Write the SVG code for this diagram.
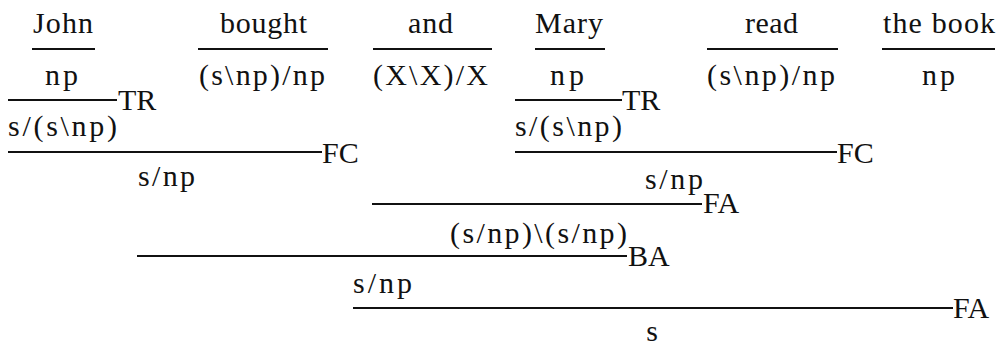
<svg xmlns="http://www.w3.org/2000/svg" width="1000" height="346" viewBox="0 0 1000 346">
<style>
text{font-size:30px;fill:#111}
.c{text-anchor:middle}
line{stroke:#111;stroke-width:2}
</style>
<rect width="1000" height="346" fill="#fff"/>
<g font-family="Liberation Serif, DejaVu Serif, serif">
<g id="words">
<g id="w-john"><text x="33" y="33" textLength="60" lengthAdjust="spacing">John</text><text x="45" y="85" textLength="33" lengthAdjust="spacing">np</text></g>
<g id="w-bought"><text x="220" y="33" textLength="87" lengthAdjust="spacing">bought</text><text x="199" y="85" textLength="126" lengthAdjust="spacing">(s\np)/np</text></g>
<g id="w-and"><text x="408" y="33" textLength="45" lengthAdjust="spacing">and</text><text x="373" y="85" textLength="115" lengthAdjust="spacing">(X\X)/X</text></g>
<g id="w-mary"><text x="535" y="33" textLength="68" lengthAdjust="spacing">Mary</text><text x="550" y="85" textLength="34" lengthAdjust="spacing">np</text></g>
<g id="w-read"><text x="745" y="33" textLength="53" lengthAdjust="spacing">read</text><text x="707" y="85" textLength="128" lengthAdjust="spacing">(s\np)/np</text></g>
<g id="w-book"><text x="883" y="33" textLength="112" lengthAdjust="spacing">the book</text><text x="922" y="85" textLength="33" lengthAdjust="spacing">np</text></g>
</g>
<g id="steps">
<g id="tr1"><text x="118" y="110">TR</text><text x="8" y="136" textLength="109" lengthAdjust="spacing">s/(s\np)</text></g>
<g id="tr2"><text x="622" y="110">TR</text><text x="515" y="136" textLength="107" lengthAdjust="spacing">s/(s\np)</text></g>
<g id="fc1"><text x="322" y="163">FC</text><text x="138" y="186" textLength="57" lengthAdjust="spacing">s/np</text></g>
<g id="fc2"><text x="837" y="163">FC</text><text x="645" y="189" textLength="58" lengthAdjust="spacing">s/np</text></g>
<g id="fa1"><text x="703" y="213">FA</text><text x="450" y="243" textLength="177" lengthAdjust="spacing">(s/np)\(s/np)</text></g>
<g id="ba"><text x="628" y="266">BA</text><text x="353" y="293" textLength="59" lengthAdjust="spacing">s/np</text></g>
<g id="fa2"><text x="953" y="318">FA</text><text class="c" x="652" y="341">s</text></g>
</g>
</g>
<g id="connectors">
<line x1="32" y1="49" x2="95" y2="49"/>
<line x1="198" y1="49" x2="328" y2="49"/>
<line x1="373" y1="49" x2="492" y2="49"/>
<line x1="535" y1="49" x2="605" y2="49"/>
<line x1="707" y1="49" x2="838" y2="49"/>
<line x1="882" y1="49" x2="995" y2="49"/>
<line x1="8" y1="100" x2="117" y2="100"/>
<line x1="515" y1="100" x2="622" y2="100"/>
<line x1="8" y1="152" x2="322" y2="152"/>
<line x1="515" y1="152" x2="837" y2="152"/>
<line x1="372" y1="204" x2="702" y2="204"/>
<line x1="137" y1="256" x2="627" y2="256"/>
<line x1="353" y1="308" x2="953" y2="308"/>
</g>
</svg>
